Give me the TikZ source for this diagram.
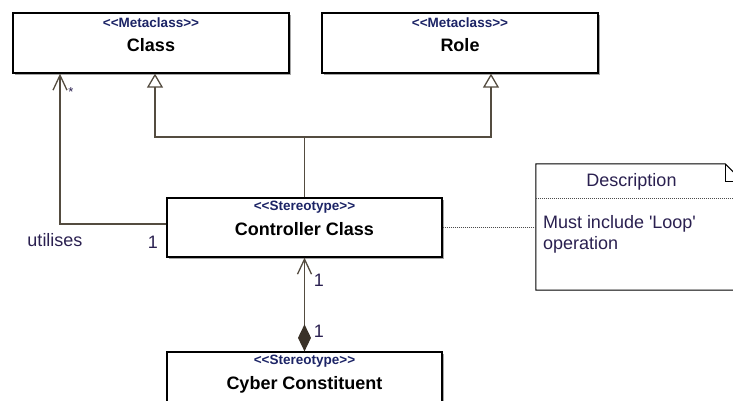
\documentclass[tikz,border=0pt]{standalone}
\usepackage{fontspec}
\setmainfont{Liberation Sans}
\usetikzlibrary{arrows.meta,shadows,calc}
\definecolor{linec}{HTML}{544C40}
\definecolor{diamc}{HTML}{3A3228}
\definecolor{stereoc}{HTML}{1C2466}
\definecolor{labelc}{HTML}{2A2050}
\newcommand{\stlt}{{<}{<}}
\newcommand{\stgt}{{>}{>}}
\tikzset{
  umlbox/.style={draw=black, line width=1.3pt, fill=white, inner sep=0pt,
    general shadow={fill=black!35, shadow xshift=2pt, shadow yshift=-2pt}},
  stereo/.style={font=\fontsize{13.5}{15}\selectfont\bfseries, text=stereoc, inner sep=0pt},
  umlname/.style={font=\fontsize{18}{20}\selectfont\bfseries, text=black, inner sep=0pt},
  lbl/.style={font=\fontsize{18}{20}\selectfont, text=labelc, inner sep=0pt},
  conn/.style={draw=linec, line width=1.3pt},
  gen/.style={conn, -{Triangle[open, length=14pt, width=16pt, fill=white]}},
  barb/.style={conn, -{Straight Barb[length=15pt, width=14pt]}},
  comp/.style={conn, {Diamond[length=27pt, width=13pt, fill=diamc, color=diamc]}-{Straight Barb[length=15pt, width=14pt]}},
  notelink/.style={draw=black!70, line width=1pt, dash pattern=on 1pt off 1pt},
}
\begin{document}
\begin{tikzpicture}[x=1pt, y=-1pt]
  \useasboundingbox (0,0) rectangle (733,401);
  \clip (0,0) rectangle (733,401);

  % classes
  \node[umlbox, minimum width=276pt, minimum height=60pt] (cls) at (151,43) {};
  \node[stereo] (clsst) at ([yshift=-10pt]cls.north) {\stlt Metaclass\stgt};
  \node[umlname] (clsnm) at ([yshift=-32.5pt]cls.north) {Class};

  \node[umlbox, minimum width=276pt, minimum height=60pt] (role) at (460,43) {};
  \node[stereo] (rolest) at ([yshift=-10pt]role.north) {\stlt Metaclass\stgt};
  \node[umlname] (rolenm) at ([yshift=-32.5pt]role.north) {Role};

  \node[umlbox, minimum width=275pt, minimum height=59pt] (ctrl) at (304.5,227.5) {};
  \node[stereo] (ctrlst) at ([yshift=-10pt]ctrl.north) {\stlt Stereotype\stgt};
  \node[umlname] (ctrlnm) at ([yshift=-32pt]ctrl.north) {Controller Class};

  \node[umlbox, minimum width=275pt, minimum height=60pt] (cyb) at (304.5,382) {};
  \node[stereo] (cybst) at ([yshift=-10pt]cyb.north) {\stlt Stereotype\stgt};
  \node[umlname] (cybnm) at ([yshift=-33pt]cyb.north) {Cyber Constituent};

  % note with folded corner
  \node[inner sep=0pt, minimum width=207pt, minimum height=126pt] (note) at (639.5,227) {};
  \draw[black, line width=1pt, fill=white]
    (note.north west) -- ([xshift=-18pt]note.north east)
    -- ([yshift=-18pt]note.north east) -- (note.south east)
    -- (note.south west) -- cycle;
  \draw[black, line width=1pt]
    ([xshift=-18pt]note.north east) -- ([xshift=-18pt,yshift=-18pt]note.north east)
    -- ([yshift=-18pt]note.north east);
  \draw[notelink] ([yshift=-35pt]note.north west) -- ([yshift=-35pt]note.north east);
  \node[lbl] (notehd) at ([xshift=-8pt,yshift=-18pt]note.north) {Description};
  \node[lbl, anchor=west] (notel1) at ([xshift=7pt,yshift=-60pt]note.north west) {Must include \textquotesingle Loop\textquotesingle};
  \node[lbl, anchor=west] (notel2) at ([xshift=7pt,yshift=-81pt]note.north west) {operation};

  % generalisations
  \coordinate (gj) at (304.5,137);
  \draw[gen] (ctrl.north) -- (gj) -| ([xshift=4pt]cls.south);
  \draw[gen] (gj) -| ([xshift=31pt]role.south);

  % utilises association
  \draw[barb] ([yshift=3.5pt]ctrl.west) -| ([xshift=-91pt]cls.south);
  \node[lbl, font=\fontsize{13}{14}\selectfont] (star) at (71,92) {*};
  \node[lbl] (utl) at (55,240) {utilises};
  \node[lbl] (utm) at (153,242) {1};

  % composition
  \draw[comp] (cyb.north) -- (ctrl.south);
  \node[lbl] (cm1) at (319,280) {1};
  \node[lbl] (cm2) at (319,331) {1};

  % note link
  \draw[notelink] (ctrl.east) -- (note.west |- ctrl.east);
\end{tikzpicture}
\end{document}
